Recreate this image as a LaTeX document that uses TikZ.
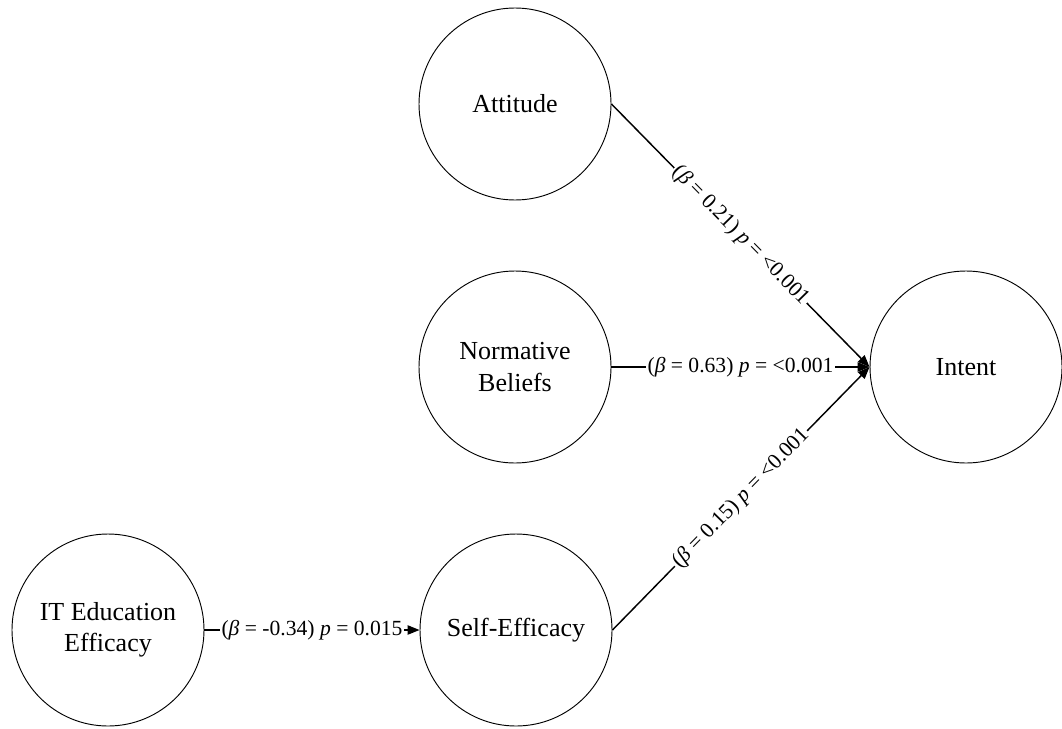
\documentclass[tikz,border=0pt]{standalone}
\usepackage{fontspec}
\setmainfont{Liberation Serif}
\usetikzlibrary{arrows.meta}
\begin{document}
\begin{tikzpicture}[x=0.75pt,y=-0.75pt,
  construct/.style={circle,draw,line width=0.7pt,minimum size=144pt,inner sep=0pt,
    align=center,font=\fontsize{19.5}{23.5}\selectfont},
  path/.style={line width=1.1pt,-{Triangle[length=9pt,width=7pt]}},
  coef/.style={fill=white,inner sep=1.2pt,outer sep=0pt,sloped,
    font=\fontsize{16.2}{18}\selectfont}]
\useasboundingbox (0,0) rectangle (1062,728);
% constructs of the model
\node[construct] (att) at (515,104) {Attitude};
\node[construct] (norm) at (515,367) {Normative\\Beliefs};
\node[construct] (int) at (966,367) {Intent};
\node[construct] (ite) at (108,630) {IT Education\\Efficacy};
\node[construct] (self) at (516,630) {Self-Efficacy};
% structural paths with standardized coefficients
\draw[path] (att.east) -- node[coef] {(\textit{β} = 0.21) \textit{p} = <0.001} (int.west);
\draw[path] (norm.east) -- node[coef] {(\textit{β} = 0.63) \textit{p} = <0.001} (int.west);
\draw[path] (self.east) -- node[coef] {(\textit{β} = 0.15) \textit{p} = <0.001} (int.west);
\draw[path] (ite.east) -- node[coef] {(\textit{β} = -0.34) \textit{p} = 0.015} (self.west);
\end{tikzpicture}
\end{document}
